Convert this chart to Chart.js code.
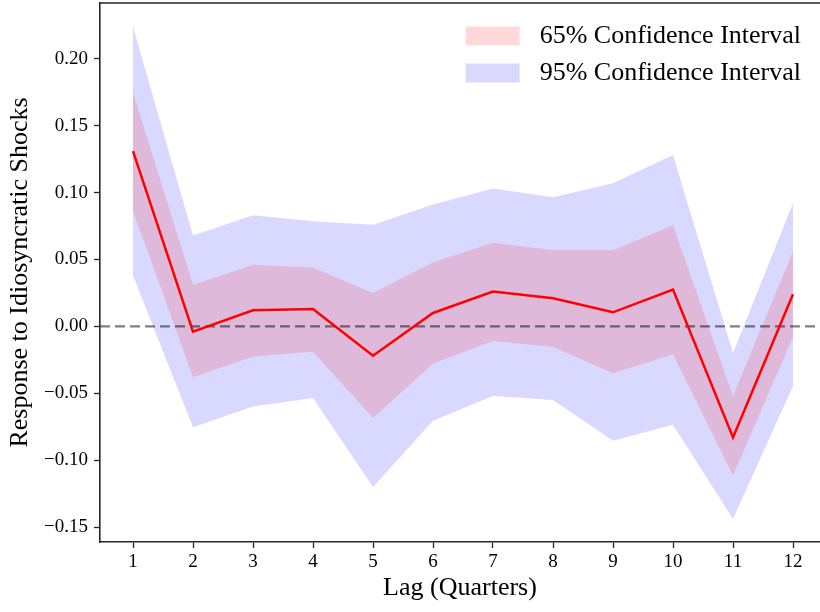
<!DOCTYPE html>
<html>
<head>
<meta charset="utf-8">
<script src="https://cdn.jsdelivr.net/npm/chart.js@4.4.1/dist/chart.umd.min.js"></script>
<style>
  html, body { margin: 0; padding: 0; background: #fff; }
</style>
</head>
<body>
<canvas id="irfChart" width="820" height="612"></canvas>
<script>
(function () {
    "use strict";

    // impulse response, lags 1..12
    var lags = [1, 2, 3, 4, 5, 6, 7, 8, 9, 10, 11, 12];
    var irf = [0.131, -0.004, 0.012, 0.013, -0.022, 0.010, 0.026, 0.021, 0.0105, 0.0275, -0.083, 0.024];
    var upper95 = [0.224, 0.068, 0.083, 0.0785, 0.076, 0.091, 0.103, 0.0965, 0.107, 0.128, -0.020, 0.092];
    var lower95 = [0.038, -0.0755, -0.060, -0.0535, -0.120, -0.0705, -0.052, -0.055, -0.0855, -0.0735, -0.144, -0.0445];
    var upper65 = [0.175, 0.031, 0.046, 0.044, 0.025, 0.048, 0.0625, 0.057, 0.057, 0.0755, -0.052, 0.056];
    var lower65 = [0.086, -0.038, -0.0225, -0.019, -0.0685, -0.028, -0.011, -0.0155, -0.035, -0.021, -0.1115, -0.008];
    var yTicks = [-0.15, -0.10, -0.05, 0.00, 0.05, 0.10, 0.15, 0.20];
    var bandLabels = ["65% Confidence Interval", "95% Confidence Interval"];

    var serif = "'Liberation Serif', 'Times New Roman', serif";

    function pts(vals) {
        return lags.map(function (l, i) { return { x: l, y: vals[i] }; });
    }

    function band(label, vals, color, fill, order) {
        return {
            label: label,
            data: pts(vals),
            borderWidth: 0,
            pointRadius: 0,
            backgroundColor: color,
            fill: fill,
            order: order
        };
    }

    // zero line, drawn just before the red line so it sits over the bands
    var zeroLine = {
        id: 'zeroLine',
        beforeDatasetDraw: function (chart, args) {
            if (args.index !== 0) return;
            var ctx = chart.ctx, a = chart.chartArea;
            var y = chart.scales.y.getPixelForValue(0);
            ctx.save();
            ctx.beginPath();
            ctx.rect(a.left, a.top, a.right - a.left, a.bottom - a.top);
            ctx.clip();
            ctx.setLineDash([10, 5]);
            ctx.strokeStyle = 'rgba(0,0,0,0.5)';
            ctx.lineWidth = 2.2;
            ctx.beginPath();
            ctx.moveTo(a.left, y);
            ctx.lineTo(a.right, y);
            ctx.stroke();
            ctx.restore();
        }
    };

    // top spine + legend inside the plot, upper right
    var frameLegend = {
        id: 'frameLegend',
        afterDraw: function (chart) {
            var ctx = chart.ctx, a = chart.chartArea;
            ctx.save();
            ctx.strokeStyle = '#262626';
            ctx.lineWidth = 1.6;
            ctx.beginPath();
            ctx.moveTo(a.left, a.top);
            ctx.lineTo(a.right, a.top);
            ctx.stroke();

            var items = [chart.data.datasets[3], chart.data.datasets[1]];
            ctx.font = "26px " + serif;
            var maxW = 0;
            items.forEach(function (d) { maxW = Math.max(maxW, ctx.measureText(d.label).width); });
            var textX = a.right - 19 - maxW;
            var boxW = 54, boxH = 19;
            var boxX = textX - 20 - boxW;
            ctx.textBaseline = 'middle';
            ctx.textAlign = 'left';
            items.forEach(function (d, i) {
                var cy = a.top + 33 + i * 37;
                ctx.fillStyle = d.backgroundColor;
                ctx.fillRect(boxX, cy - boxH / 2, boxW, boxH);
                ctx.fillStyle = '#000';
                ctx.fillText(d.label, textX, cy);
            });
            ctx.restore();
        }
    };

    function fmt(v) {
        if (Math.abs(v) < 1e-9) return '0.00';
        return (v < 0 ? '\u2212' : '') + Math.abs(v).toFixed(2);
    }

    var ctx = document.getElementById("irfChart");
    var myChart = new Chart(ctx, {
        type: 'line',
        data: {
            datasets: [
                {
                    label: "IRF",
                    data: pts(irf),
                    borderColor: "#ff0000",
                    borderWidth: 2.5,
                    pointRadius: 0,
                    fill: false,
                    tension: 0,
                    order: 0
                },
                band(bandLabels[1], upper95, 'rgba(0,0,255,0.15)', '+1', 2),
                band('lower95', lower95, 'transparent', false, 3),
                band(bandLabels[0], upper65, 'rgba(255,0,0,0.15)', '+1', 1),
                band('lower65', lower65, 'transparent', false, 3)
            ]
        },
        options: {
            responsive: false,
            animation: false,
            layout: { padding: { top: 3, right: 0, left: 0, bottom: 0 } },
            plugins: {
                legend: { display: false },
                tooltip: { enabled: false }
            },
            scales: {
                x: {
                    type: 'linear',
                    min: 0.45,
                    max: 12.45,
                    afterBuildTicks: function (s) {
                        s.ticks = lags.map(function (v) { return { value: v }; });
                    },
                    afterFit: function (s) {
                        s.height = 70;
                        s.paddingLeft = 0;
                        s.paddingRight = 0;
                    },
                    ticks: {
                        autoSkip: false,
                        maxRotation: 0,
                        padding: 3,
                        color: '#000',
                        font: { family: serif, size: 19 }
                    },
                    grid: {
                        drawOnChartArea: false,
                        tickLength: 6,
                        tickColor: '#262626',
                        tickWidth: 1.3
                    },
                    border: { color: '#262626', width: 1.6 },
                    title: {
                        display: true,
                        text: 'Lag (Quarters)',
                        color: '#000',
                        font: { family: serif, size: 26, lineHeight: 1.2 },
                        padding: { top: 0, bottom: 8 }
                    }
                },
                y: {
                    min: -0.1612,
                    max: 0.2417,
                    afterBuildTicks: function (s) {
                        s.ticks = yTicks.map(function (v) { return { value: v }; });
                    },
                    afterFit: function (s) {
                        s.width = 100;
                        s.paddingTop = 0;
                        s.paddingBottom = 0;
                    },
                    ticks: {
                        padding: 6,
                        color: '#000',
                        font: { family: serif, size: 19 },
                        callback: function (v) { return fmt(v); }
                    },
                    grid: {
                        drawOnChartArea: false,
                        tickLength: 6,
                        tickColor: '#262626',
                        tickWidth: 1.3
                    },
                    border: { color: '#262626', width: 1.6 },
                    title: {
                        display: true,
                        text: 'Response to Idiosyncratic Shocks',
                        color: '#000',
                        font: { family: serif, size: 26, lineHeight: 1.2 },
                        padding: { top: 5, bottom: 0 }
                    }
                }
            }
        },
        plugins: [zeroLine, frameLegend]
    });

})();
</script>
</body>
</html>
